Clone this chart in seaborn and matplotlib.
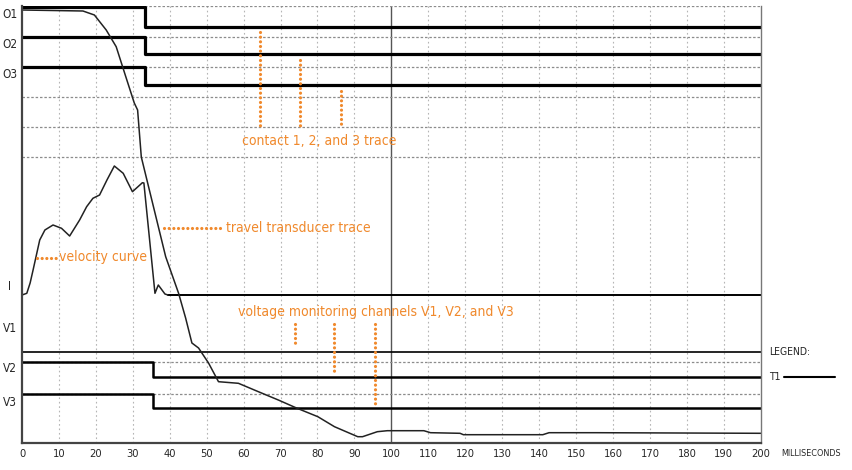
"""Breaker timing trace: contacts, travel, velocity and voltage channels."""

import matplotlib
matplotlib.use("Agg")
import matplotlib.pyplot as plt
import seaborn as sns

# --- data (time in ms, vertical position in chart units, top = 6, bottom = 443) ---
step_time_o = [0, 33.3, 200]
o1 = [6.7, 26.7, 26.7]
o2 = [36.7, 54.3, 54.3]
o3 = [67.3, 85.0, 85.0]

step_time_v = [0, 35.5, 200]
v2 = [361.7, 376.7, 376.7]
v3 = [394.0, 408.3, 408.3]
v1_time = [0, 200]
v1 = [351.5, 351.5]
i_time = [39.5, 200]
i_line = [295.0, 295.0]

travel_time = [0, 16.5, 19.6, 22.8, 25.5, 28.1, 30.4, 31.3, 32.3, 38.9, 42.4,
               44.3, 46.0, 47.8, 50.5, 53.2, 58.6, 64.0, 69.4, 74.5, 80.1,
               84.6, 90.9, 92.2, 96.2, 98.9, 108.8, 110.6, 118.6, 119.5,
               141.0, 142.7, 155.4, 200]
travel = [10, 11, 15, 30, 46.7, 76.7, 103, 110, 157, 256.7, 293.3,
          318, 343, 348, 363, 381.7, 383.3, 391.7, 400, 408.3, 416.7,
          426.7, 436.7, 436.7, 431.7, 430.7, 430.7, 432.7, 433.3, 434.7,
          434.7, 432.7, 432.7, 433.3]

velocity_time = [0, 1.3, 2.2, 3.0, 4.8, 6.2, 8.4, 10.7, 12.9, 15.6, 17.5,
                 19.2, 21.0, 23.0, 25.0, 27.4, 29.9, 32.6, 33.0, 36.0, 36.9,
                 38.7, 39.5]
velocity = [295, 293.3, 283, 270, 240, 230, 225, 228.3, 236, 220, 206.7,
            198.3, 195, 180, 166, 173.3, 191.7, 182.7, 183, 293.3, 285,
            294, 295]

channel_labels = ["O1", "O2", "O3", "I", "V1", "V2", "V3"]
channel_label_y = [14, 44, 74, 286, 329, 368, 402]

h_grid = [6, 36.7, 67, 97, 127, 157, 361.7, 394]
x_ticks = list(range(0, 201, 10))

ORANGE = "#f0892c"
TXT = dict(family=["DejaVu Sans"], fontstretch="condensed")


def main():
    sns.set_style("white")
    plt.rcParams["font.family"] = ["DejaVu Sans"]

    fig = plt.figure(figsize=(8.52, 4.70), dpi=100)
    ax = fig.add_axes([22 / 852, 26.7 / 470, 738.7 / 852, 437.3 / 470])

    # grid
    for x in x_ticks:
        if x == 100:
            ax.axvline(x, color="#555555", lw=1.0, zorder=1)
        elif 0 < x < 200:
            ax.axvline(x, color="#b5b5b5", lw=0.8, ls=(0, (1.5, 2.5)), zorder=1)
    for y in h_grid:
        ax.axhline(y, color="#8c8c8c", lw=0.9, ls=(0, (2, 1.5)), zorder=1)

    # contact and voltage channels
    for yy in (o1, o2, o3):
        sns.lineplot(x=step_time_o, y=yy, ax=ax, color="black", lw=2.3,
                     drawstyle="steps-post", estimator=None)
    for yy in (v2, v3):
        sns.lineplot(x=step_time_v, y=yy, ax=ax, color="black", lw=1.8,
                     drawstyle="steps-post", estimator=None)
    sns.lineplot(x=v1_time, y=v1, ax=ax, color="black", lw=1.2, estimator=None)
    sns.lineplot(x=i_time, y=i_line, ax=ax, color="black", lw=1.4, estimator=None)

    # travel & velocity
    sns.lineplot(x=travel_time, y=travel, ax=ax, color="#222222", lw=1.1,
                 estimator=None, sort=False)
    sns.lineplot(x=velocity_time, y=velocity, ax=ax, color="#222222", lw=1.1,
                 estimator=None, sort=False)

    ax.set_xlim(0, 200)
    ax.set_ylim(443.3, 6)
    ax.set_xticks(x_ticks)
    ax.set_xticklabels([str(t) for t in x_ticks], fontsize=8, **TXT)
    ax.set_yticks([])
    ax.tick_params(axis="x", length=0, pad=4)
    for side in ("left", "bottom"):
        ax.spines[side].set_color("#444444")
        ax.spines[side].set_linewidth(1.6)
    ax.spines["right"].set_color("#777777")
    ax.spines["right"].set_linewidth(1.0)
    ax.spines["top"].set_visible(False)

    # channel names
    for lab, y in zip(channel_labels, channel_label_y):
        ax.text(-3.3, y, lab, ha="center", va="center", fontsize=8.5,
                clip_on=False, **TXT)

    # legend & unit
    ax.text(202.2, 352, "LEGEND:", ha="left", va="center", fontsize=7.5,
            clip_on=False, **TXT)
    ax.text(202.2, 377, "T1", ha="left", va="center", fontsize=7.5,
            clip_on=False, **TXT)
    ax.plot([206.3, 220.1], [377, 377], color="black", lw=1.5, clip_on=False)
    ax.text(205.5, 454, "MILLISECONDS", ha="left", va="center", fontsize=6.5,
            clip_on=False, **TXT)

    # orange annotations
    dot = dict(color=ORANGE, lw=2.3, ls=(0, (0.01, 1.45)),
               dash_capstyle="round", zorder=5)
    for x, y0 in [(64.5, 31.7), (75.3, 60), (86.4, 90.7)]:
        ax.plot([x, x], [y0, 128], **dot)
    ax.text(59.6, 141, "contact 1, 2, and 3 trace", color=ORANGE,
            fontsize=10, ha="left", va="center", zorder=6, **TXT)

    ax.plot([38.5, 54.4], [228.3, 228.3], **dot)
    ax.text(55.3, 228, "travel transducer trace", color=ORANGE,
            fontsize=10, ha="left", va="center", zorder=6, **TXT)

    ax.plot([4.0, 9.5], [258.3, 258.3], **dot)
    ax.text(10.0, 257, "velocity curve", color=ORANGE,
            fontsize=10, ha="left", va="center", zorder=6, **TXT)

    for x, y1 in [(73.8, 346), (84.6, 371.7), (95.7, 404)]:
        ax.plot([x, x], [324, y1], **dot)
    ax.text(58.5, 312, "voltage monitoring channels V1, V2, and V3",
            color=ORANGE, fontsize=10, ha="left", va="center",
            zorder=6, **TXT)

    fig.savefig("out.png", dpi=100, facecolor="white")


if __name__ == "__main__":
    main()
